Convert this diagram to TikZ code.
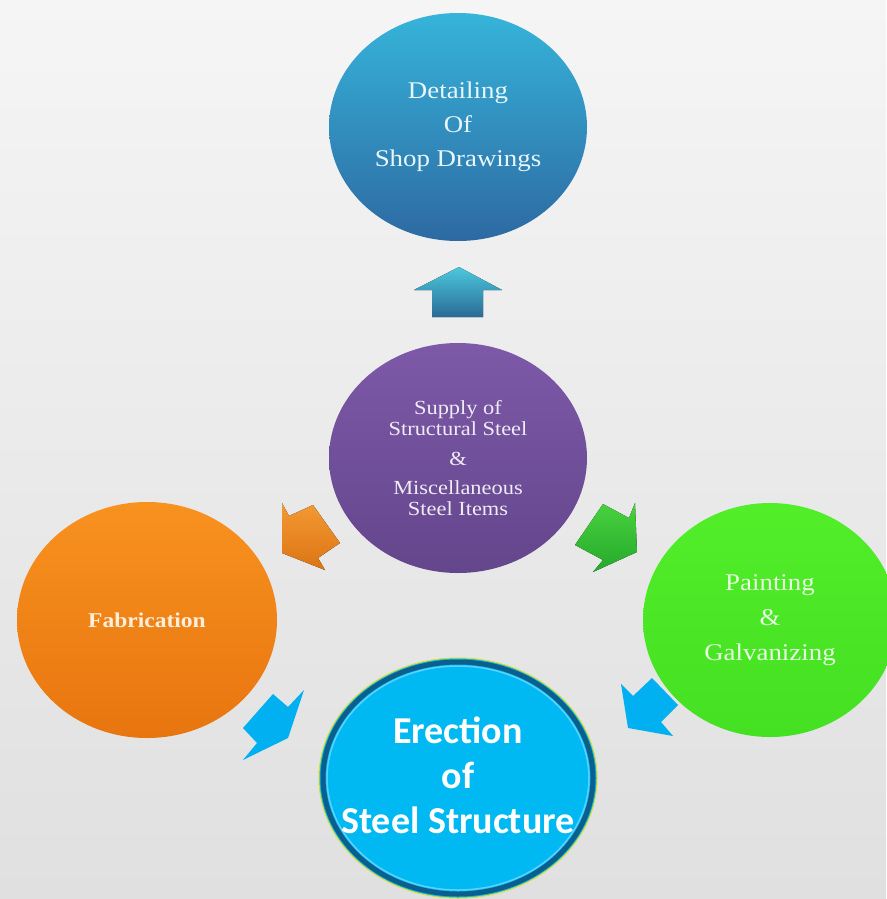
\documentclass[tikz,border=0pt]{standalone}
\usepackage{fontspec}
\setmainfont{Liberation Serif}[FakeStretch=1.12]
\newfontfamily\calib{Carlito}
\usetikzlibrary{shapes.geometric,positioning}
\definecolor{bgtop}{HTML}{F5F5F5}
\definecolor{bgbot}{HTML}{E0E0E0}
\definecolor{dettop}{HTML}{36B4DA}
\definecolor{detbot}{HTML}{2D69A2}
\definecolor{purtop}{HTML}{7D59A8}
\definecolor{purbot}{HTML}{64468C}
\definecolor{fabtop}{HTML}{F8921F}
\definecolor{fabbot}{HTML}{E8750F}
\definecolor{paitop}{HTML}{52EE2A}
\definecolor{paibot}{HTML}{44E022}
\definecolor{erecfill}{HTML}{00B9F2}
\definecolor{ringdk}{HTML}{0C5E8C}
\definecolor{ringlt}{HTML}{5AD2FF}
\definecolor{ringyl}{HTML}{D8DC30}
\definecolor{arrblue}{HTML}{00B0F0}
\definecolor{uptop}{HTML}{4CC8DC}
\definecolor{upbot}{HTML}{2A6B96}
\definecolor{ortop}{HTML}{F39A35}
\definecolor{orbot}{HTML}{DC7412}
\definecolor{grtop}{HTML}{48D23E}
\definecolor{grbot}{HTML}{26A82C}
\begin{document}
\begin{tikzpicture}[x=1pt,y=-1pt,on grid,
	blob/.style={ellipse,inner sep=0pt,align=center,font=\fontsize{21}{33}\selectfont},
	rim/.style={ellipse,inner sep=0pt,draw},
	blockarr/.style={line join=round}]
	\useasboundingbox (0,0) rectangle (886,899);
	\fill[top color=bgtop,bottom color=bgbot] (0,0) rectangle (886,899);
	% circles
	\node[blob,minimum width=258pt,minimum height=230pt,top color=purtop,bottom color=purbot,
		text=white!88!purtop,font=\fontsize{20}{21}\selectfont]	(S) at (458,458)
		{Supply of\\Structural Steel\\[9pt]\&\\[8pt]Miscellaneous\\Steel Items};
	\node[blob,minimum width=258pt,minimum height=228pt,top color=dettop,bottom color=detbot,
		text=white!88!dettop,font=\fontsize{24}{34}\selectfont]	(D) [above=331pt of S]	{Detailing\\Of\\Shop Drawings};
	\node[blob,minimum width=260pt,minimum height=236pt,top color=fabtop,bottom color=fabbot,
		text=white!85!fabtop,font=\fontsize{21}{33}\bfseries]	(F) [below left=162pt and 311pt of S]	{Fabrication};
	\node[blob,minimum width=254pt,minimum height=234pt,top color=paitop,bottom color=paibot,
		text=white!85!paitop,font=\fontsize{24}{35}\selectfont]	(P) [below right=162pt and 312pt of S]	{Painting\\\&\\Galvanizing};
	\node[rim,minimum width=278pt,minimum height=240pt,fill=erecfill,draw=ringyl,line width=1pt]	(E) [below=320pt of S]	{};
	\node[rim,minimum width=270pt,minimum height=232pt,draw=ringdk,line width=5pt]	(E1) at (E)	{};
	\node[rim,minimum width=262pt,minimum height=224pt,draw=ringlt,line width=1.5pt]	(E2) at (E)	{};
	\node[blob,text=white,font=\calib\bfseries\fontsize{38}{45}\selectfont]	(Et) [above=3pt of E]	{Erection\\of\\Steel Structure};
	% block arrows
	\fill[blockarr,top color=uptop,bottom color=upbot]
		(459,267) -- (502,290) -- (483,290) -- (483,317) -- (432,317) -- (432,290) -- (414,290) -- cycle;
	\fill[blockarr,top color=ortop,bottom color=orbot]
		(282,503) -- (289,516) -- (313,505) -- (340,543) -- (318,558) -- (325,570) -- (282,553) -- cycle;
	\fill[blockarr,top color=grtop,bottom color=grbot]
		(635,503) -- (629,518) -- (603,504) -- (575,545) -- (603,560) -- (593,572) -- (637,552) -- cycle;
	\fill[blockarr,arrblue]
		(304,690) -- (288,707) -- (273,694) -- (243,728) -- (257,743) -- (243,760) -- (288,738) -- cycle;
	\fill[blockarr,arrblue]
		(621,684) -- (633,696) -- (652,678) -- (678,705) -- (661,722) -- (673,736) -- (628,728) -- cycle;
\end{tikzpicture}
\end{document}
